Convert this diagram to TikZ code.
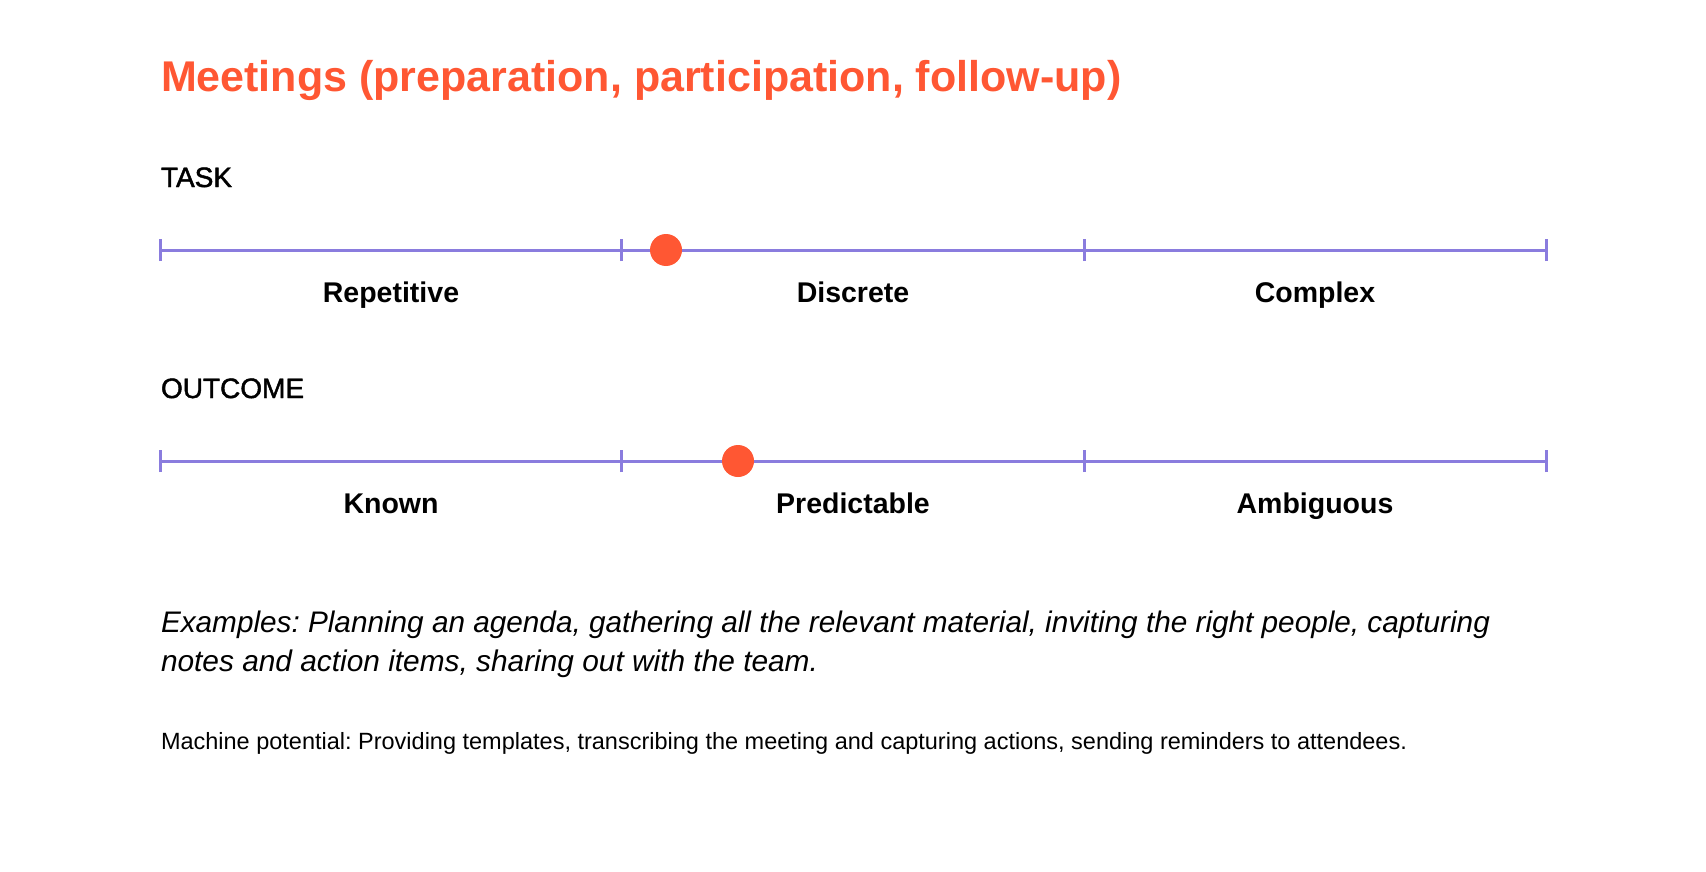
\documentclass[tikz,border=0pt]{standalone}
\usepackage{fontspec}
\setmainfont{Liberation Sans}
\newfontfamily\medfont[FakeBold=1.6]{Liberation Sans}
\definecolor{accent}{RGB}{255,87,51}
\definecolor{scale}{RGB}{138,124,222}
\frenchspacing
\begin{document}
\begin{tikzpicture}[x=1pt,y=-1pt,
  every node/.style={inner sep=0pt,outer sep=0pt},
  titletext/.style={anchor=base west,text=accent,font=\fontsize{43}{50}\selectfont\bfseries},
  headtext/.style={anchor=base west,font=\fontsize{28}{32}\selectfont\medfont},
  labeltext/.style={anchor=base,font=\fontsize{28.5}{32}\selectfont\bfseries},
  bodytext/.style={anchor=base west},
  scaleline/.style={draw=scale,line width=3pt},
  tickmark/.style={draw=scale,line width=3pt},
  marker/.style={circle,fill=accent,minimum size=32pt}]
\useasboundingbox (0,0) rectangle (1706,872);
\fill[white] (0,0) rectangle (1706,872);

\node[titletext] (title) at (161,92) {Meetings (preparation, participation, follow-up)};

% TASK row
\node[headtext] (task) at (161,187) {TASK};
\coordinate (t0) at (160,250);
\coordinate (t1) at (621,250);
\coordinate (t2) at (1084,250);
\coordinate (t3) at (1546,250);
\draw[scaleline] (t0) -- (t3);
\foreach \c in {t0,t1,t2,t3} \draw[tickmark] ([yshift=-11pt]\c) -- ([yshift=11pt]\c);
\node[marker] (dot1) at (666,250) {};
\node[labeltext] (rep) at (391,302) {Repetitive};
\node[labeltext] (dis) at (853,302) {Discrete};
\node[labeltext] (com) at (1315,302) {Complex};

% OUTCOME row
\node[headtext] (outcome) at (161,398) {OUTCOME};
\coordinate (o0) at (160,461);
\coordinate (o1) at (621,461);
\coordinate (o2) at (1084,461);
\coordinate (o3) at (1546,461);
\draw[scaleline] (o0) -- (o3);
\foreach \c in {o0,o1,o2,o3} \draw[tickmark] ([yshift=-11pt]\c) -- ([yshift=11pt]\c);
\node[marker] (dot2) at (738,461) {};
\node[labeltext] (kno) at (391,513) {Known};
\node[labeltext] (pre) at (853,513) {Predictable};
\node[labeltext] (amb) at (1315,513) {Ambiguous};

% Examples
\node[bodytext] (ex1) at (161,632) {\resizebox{1329pt}{!}{\fontsize{26}{30}\selectfont\itshape Examples: Planning an agenda, gathering all the relevant material, inviting the right people, capturing}};
\node[bodytext] (ex2) at (161,671) {\resizebox{657pt}{!}{\fontsize{26}{30}\selectfont\itshape notes and action items, sharing out with the team.}};

% Machine potential
\node[bodytext] (mach) at (161,749) {\resizebox{1246pt}{!}{\fontsize{21}{25}\selectfont Machine potential: Providing templates, transcribing the meeting and capturing actions, sending reminders to attendees.}};
\end{tikzpicture}
\end{document}
